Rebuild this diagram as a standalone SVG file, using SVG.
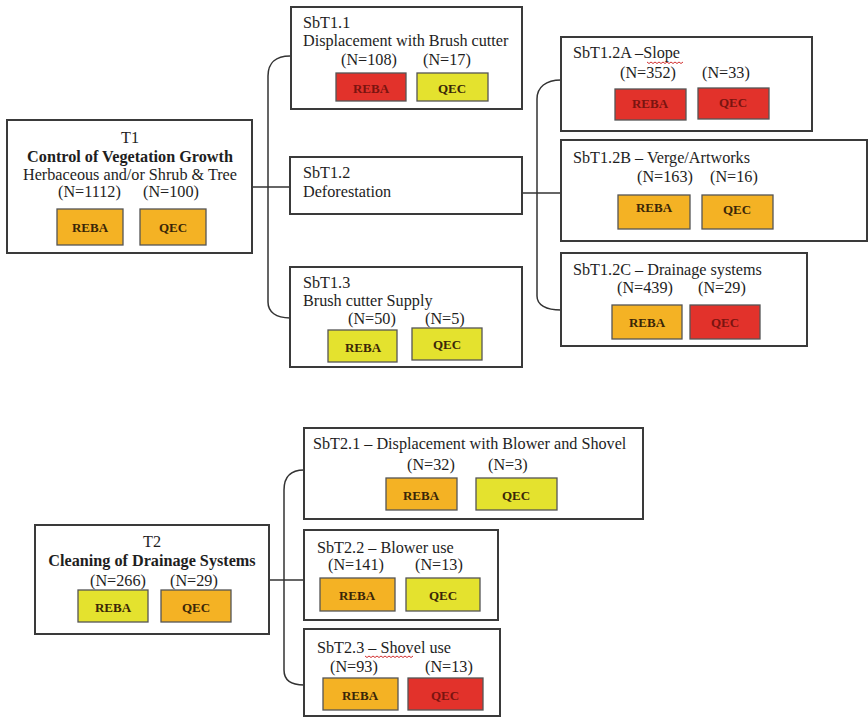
<svg xmlns="http://www.w3.org/2000/svg" width="868" height="717" viewBox="0 0 868 717">
<style>
.bg{fill:#ffffff}
.box{fill:#ffffff;stroke:#3a3a3a;stroke-width:2}
.t{font-family:"Liberation Serif","Times New Roman",serif;font-size:16.2px;fill:#1e1e1e}
.b{font-weight:bold}
.c{text-anchor:middle}
.o{fill:#F4B224;stroke:#555;stroke-width:1.3}
.r{fill:#E2322B;stroke:#555;stroke-width:1.3}
.y{fill:#E4E22E;stroke:#555;stroke-width:1.3}
.lb{font-family:"Liberation Serif","Times New Roman",serif;font-size:13px;font-weight:bold;text-anchor:middle;fill:#3a2608}
.lr{font-family:"Liberation Serif","Times New Roman",serif;font-size:13px;font-weight:bold;text-anchor:middle;fill:#7a1410}
.ln{fill:none;stroke:#333;stroke-width:1.5}
.sq{fill:none;stroke:#d23030;stroke-width:1}
</style>
<rect class="bg" x="0" y="0" width="868" height="717"/>
<g id="connectors">
<path class="ln" d="M252,187 H290"/>
<path class="ln" d="M290,56 C276,56 268,63 268,76 V302 C268,312 276,318 290,318"/>
<path class="ln" d="M522,193 H561"/>
<path class="ln" d="M561,80 C546,80 537,87 537,99 V296 C537,305 546,310 561,310"/>
<path class="ln" d="M269,580 H304"/>
<path class="ln" d="M304,470 C291,470 284,477 284,490 V670 C284,680 291,685 304,685"/>
</g>
<g id="T1">
<rect class="box" x="7" y="120" width="245" height="133"/>
<text class="t c" x="130" y="143">T1</text>
<text class="t c b" x="130" y="162">Control of Vegetation Growth</text>
<text class="t c" x="130" y="180">Herbaceous and/or Shrub &amp; Tree</text>
<text class="t" x="58" y="197">(N=1112)</text>
<text class="t" x="143" y="197">(N=100)</text>
<rect class="o" x="57" y="209" width="66" height="36"/>
<text class="lb" x="90" y="232">REBA</text>
<rect class="o" x="140" y="209" width="66" height="36"/>
<text class="lb" x="173" y="232">QEC</text>
</g>
<g id="SbT1.1">
<rect class="box" x="291" y="7" width="231" height="102"/>
<text class="t" x="303" y="28">SbT1.1</text>
<text class="t" x="303" y="46">Displacement with Brush cutter</text>
<text class="t" x="341" y="65">(N=108)</text>
<text class="t" x="423" y="65">(N=17)</text>
<rect class="r" x="336" y="73" width="70" height="28"/>
<text class="lr" x="371" y="93">REBA</text>
<rect class="y" x="417" y="73" width="71" height="28"/>
<text class="lb" x="452" y="93">QEC</text>
</g>
<g id="SbT1.2">
<rect class="box" x="290" y="157" width="232" height="57"/>
<text class="t" x="303" y="178">SbT1.2</text>
<text class="t" x="303" y="197">Deforestation</text>
</g>
<g id="SbT1.3">
<rect class="box" x="290" y="267" width="232" height="100"/>
<text class="t" x="303" y="288">SbT1.3</text>
<text class="t" x="303" y="306">Brush cutter Supply</text>
<text class="t" x="348" y="324">(N=50)</text>
<text class="t" x="425" y="324">(N=5)</text>
<rect class="y" x="328" y="330" width="69" height="32"/>
<text class="lb" x="363" y="352">REBA</text>
<rect class="y" x="412" y="328" width="70" height="32"/>
<text class="lb" x="447" y="349">QEC</text>
</g>
<g id="SbT1.2A">
<rect class="box" x="561" y="37" width="251" height="94"/>
<text class="t" x="573" y="58">SbT1.2A –Slope</text>
<path class="sq" d="M647,62 l2,1.5 l2,-1.5 l2,1.5 l2,-1.5 l2,1.5 l2,-1.5 l2,1.5 l2,-1.5 l2,1.5 l2,-1.5 l2,1.5 l2,-1.5 l2,1.5 l2,-1.5 l2,1.5 l2,-1.5 l2,1.5 l2,-1.5"/>
<text class="t" x="620" y="78">(N=352)</text>
<text class="t" x="702" y="78">(N=33)</text>
<rect class="r" x="615" y="89" width="71" height="31"/>
<text class="lr" x="650" y="108">REBA</text>
<rect class="r" x="698" y="88" width="71" height="31"/>
<text class="lr" x="733" y="107">QEC</text>
</g>
<g id="SbT1.2B">
<rect class="box" x="561" y="140" width="306" height="101"/>
<text class="t" x="573" y="163">SbT1.2B – Verge/Artworks</text>
<text class="t" x="637" y="182">(N=163)</text>
<text class="t" x="710" y="182">(N=16)</text>
<rect class="o" x="618" y="195" width="72" height="34"/>
<text class="lb" x="654" y="212">REBA</text>
<rect class="o" x="702" y="195" width="71" height="34"/>
<text class="lb" x="737" y="214">QEC</text>
</g>
<g id="SbT1.2C">
<rect class="box" x="561" y="253" width="246" height="93"/>
<text class="t" x="573" y="275">SbT1.2C – Drainage systems</text>
<text class="t" x="617" y="293">(N=439)</text>
<text class="t" x="698" y="293">(N=29)</text>
<rect class="o" x="612" y="305" width="70" height="34"/>
<text class="lb" x="647" y="327">REBA</text>
<rect class="r" x="690" y="305" width="70" height="34"/>
<text class="lr" x="725" y="327">QEC</text>
</g>
<g id="T2">
<rect class="box" x="35" y="525" width="234" height="109"/>
<text class="t c" x="152" y="547">T2</text>
<text class="t c b" x="152" y="566">Cleaning of Drainage Systems</text>
<text class="t" x="90" y="586">(N=266)</text>
<text class="t" x="170" y="586">(N=29)</text>
<rect class="y" x="78" y="590" width="70" height="32"/>
<text class="lb" x="113" y="612">REBA</text>
<rect class="o" x="161" y="590" width="70" height="32"/>
<text class="lb" x="196" y="612">QEC</text>
</g>
<g id="SbT2.1">
<rect class="box" x="304" y="428" width="339" height="91"/>
<text class="t" x="313" y="449">SbT2.1 – Displacement with Blower and Shovel</text>
<text class="t" x="407" y="470">(N=32)</text>
<text class="t" x="488" y="470">(N=3)</text>
<rect class="o" x="386" y="478" width="71" height="32"/>
<text class="lb" x="421" y="500">REBA</text>
<rect class="y" x="476" y="478" width="81" height="32"/>
<text class="lb" x="516" y="500">QEC</text>
</g>
<g id="SbT2.2">
<rect class="box" x="304" y="530" width="194" height="90"/>
<text class="t" x="317" y="553">SbT2.2 – Blower use</text>
<text class="t" x="328" y="570">(N=141)</text>
<text class="t" x="415" y="570">(N=13)</text>
<rect class="o" x="320" y="578" width="75" height="33"/>
<text class="lb" x="357" y="600">REBA</text>
<rect class="y" x="406" y="578" width="74" height="33"/>
<text class="lb" x="443" y="600">QEC</text>
</g>
<g id="SbT2.3">
<rect class="box" x="304" y="629" width="196" height="87"/>
<text class="t" x="317" y="653">SbT2.3 – Shovel use</text>
<path class="sq" d="M365,656 l2,1.5 l2,-1.5 l2,1.5 l2,-1.5 l2,1.5 l2,-1.5 l2,1.5 l2,-1.5 l2,1.5 l2,-1.5 l2,1.5 l2,-1.5 l2,1.5 l2,-1.5 l2,1.5 l2,-1.5 l2,1.5 l2,-1.5 l2,1.5 l2,-1.5 l2,1.5 l2,-1.5 l2,1.5 l2,-1.5"/>
<text class="t" x="330" y="672">(N=93)</text>
<text class="t" x="425" y="672">(N=13)</text>
<rect class="o" x="323" y="678" width="75" height="32"/>
<text class="lb" x="360" y="700">REBA</text>
<rect class="r" x="408" y="678" width="75" height="32"/>
<text class="lr" x="445" y="700">QEC</text>
</g>
</svg>
